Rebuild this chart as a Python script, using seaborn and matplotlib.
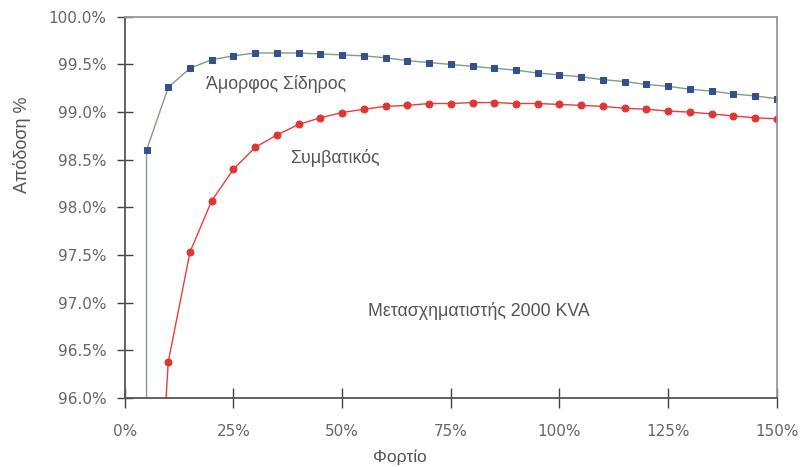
import matplotlib
matplotlib.use("Agg")
import matplotlib.pyplot as plt
from matplotlib.ticker import FuncFormatter
import seaborn as sns
import pandas as pd

# Load (% of rated) and efficiency (%) for a 2000 kVA transformer
amorphous_load = [5, 5, 10, 15, 20, 25, 30, 35, 40, 45, 50, 55, 60, 65, 70, 75,
                  80, 85, 90, 95, 100, 105, 110, 115, 120, 125, 130, 135, 140, 145, 150]
amorphous_eff = [94.0, 98.60, 99.26, 99.46, 99.55, 99.59, 99.62, 99.62, 99.62, 99.61,
                 99.60, 99.59, 99.57, 99.54, 99.52, 99.50, 99.48, 99.46, 99.44, 99.41,
                 99.39, 99.37, 99.34, 99.32, 99.29, 99.27, 99.24, 99.22, 99.19, 99.17, 99.14]

conventional_load = [5, 10, 15, 20, 25, 30, 35, 40, 45, 50, 55, 60, 65, 70, 75,
                     80, 85, 90, 95, 100, 105, 110, 115, 120, 125, 130, 135, 140, 145, 150]
conventional_eff = [92.6, 96.38, 97.53, 98.07, 98.40, 98.63, 98.76, 98.87, 98.94, 98.995,
                    99.03, 99.06, 99.07, 99.09, 99.09, 99.10, 99.10, 99.09, 99.09, 99.08,
                    99.07, 99.06, 99.04, 99.03, 99.01, 99.00, 98.98, 98.96, 98.94, 98.93]

x_ticks = [0, 25, 50, 75, 100, 125, 150]
y_ticks = [96.0, 96.5, 97.0, 97.5, 98.0, 98.5, 99.0, 99.5, 100.0]

label_amorphous = "Άμορφος Σίδηρος"
label_conventional = "Συμβατικός"
label_title = "Μετασχηματιστής 2000 KVA"
label_x = "Φορτίο"
label_y = "Απόδοση %"

sns.set_theme(style="white")
plt.rcParams["font.family"] = ["Liberation Sans", "DejaVu Sans"]
wide = ["DejaVu Sans"]

df_a = pd.DataFrame({"load": amorphous_load, "eff": amorphous_eff})
df_c = pd.DataFrame({"load": conventional_load, "eff": conventional_eff})

fig = plt.figure(figsize=(8.0, 4.67), dpi=100)
ax = fig.add_axes([0.156, 0.148, 0.815, 0.816])

sns.lineplot(data=df_c, x="load", y="eff", ax=ax, estimator=None, sort=False,
             color="#f03a3a", linewidth=1.0, marker="o", markersize=5,
             markerfacecolor="#e03535", markeredgecolor="#e03535")
sns.lineplot(data=df_a, x="load", y="eff", ax=ax, estimator=None, sort=False,
             color="#7d9f86", linewidth=1.0, marker="s", markersize=5,
             markerfacecolor="#34508f", markeredgecolor="#34508f")

ax.set_xlim(0, 150)
ax.set_ylim(96.0, 100.0)
ax.set_xticks(x_ticks)
ax.set_yticks(y_ticks)
ax.xaxis.set_major_formatter(FuncFormatter(lambda v, p: f"{v:.0f}%"))
ax.yaxis.set_major_formatter(FuncFormatter(lambda v, p: f"{v:.1f}%"))

ax.tick_params(axis="both", which="major", direction="inout", width=1.0,
               color="#444444", labelsize=11, labelcolor="#666666")
ax.tick_params(axis="x", length=15, pad=11)
ax.tick_params(axis="y", length=12, pad=7)
ax.tick_params(left=True, bottom=True)
for lbl in ax.get_xticklabels() + ax.get_yticklabels():
    lbl.set_family(wide)

for side in ("left", "bottom"):
    ax.spines[side].set_color("#555555")
    ax.spines[side].set_linewidth(1.3)
for side in ("top", "right"):
    ax.spines[side].set_color("#999999")
    ax.spines[side].set_linewidth(1.3)

ax.set_xlabel("")
ax.set_ylabel("")
fig.text(0.5, 0.021, label_x, ha="center", va="center",
         fontsize=12.5, color="#555555")
fig.text(0.027, 0.69, label_y, rotation=90, ha="center", va="center",
         fontsize=13, color="#555555")

ax.text(34.7, 99.29, label_amorphous, fontsize=12.8, color="#555555",
        ha="center", va="center")
ax.text(48.3, 98.52, label_conventional, fontsize=12.8, color="#555555",
        ha="center", va="center")
ax.text(81.4, 96.91, label_title, fontsize=12.8, color="#555555",
        ha="center", va="center")

fig.savefig("out.png", dpi=100)
